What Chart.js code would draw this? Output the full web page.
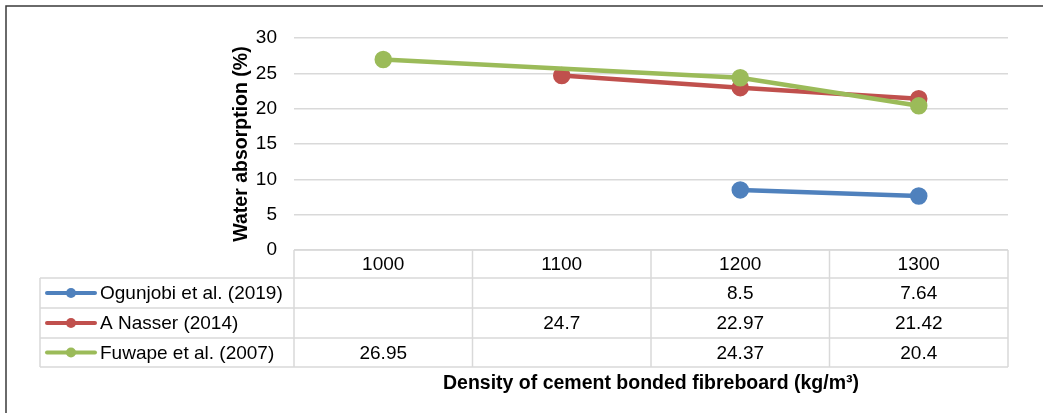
<!DOCTYPE html>
<html>
<head>
<meta charset="utf-8">
<script src="https://cdn.jsdelivr.net/npm/chart.js@4/dist/chart.umd.min.js"></script>
<style>
  html, body { margin: 0; padding: 0; background: #fff; }
  #wrap { width: 1043px; height: 413px; position: relative; }
</style>
</head>
<body>
<div id="wrap"><canvas id="chart"></canvas></div>
<script>
const densities = ['1000', '1100', '1200', '1300']
const ogunjobi = [null, null, 8.5, 7.64]
const nasser = [null, 24.7, 22.97, 21.42]
const fuwape = [26.95, null, 24.37, 20.4]
const seriesNames = ['Ogunjobi et al. (2019)', 'A Nasser (2014)', 'Fuwape et al. (2007)']
const seriesColors = ['#4F81BD', '#C0504D', '#9BBB59']
const yTicks = [0, 5, 10, 15, 20, 25, 30]

const FONT = 'Liberation Sans, Arial, sans-serif'

// draws the frame, the data table under the plot and the x axis title
const tablePlugin = {
    id: 'dataTable',
    beforeDraw(chart) {
        const ctx = chart.ctx
        ctx.save()
        ctx.strokeStyle = '#3a3a3a'
        ctx.lineWidth = 1.5
        ctx.beginPath()
        ctx.moveTo(6, chart.height)
        ctx.lineTo(6, 6)
        ctx.lineTo(chart.width, 6)
        ctx.stroke()
        ctx.restore()
    },
    afterDraw(chart) {
        const ctx = chart.ctx
        const x = chart.scales.x
        const area = chart.chartArea
        const colW = (area.right - area.left) / densities.length
        const legendLeft = 40
        const rowTops = [area.bottom, area.bottom + 28, area.bottom + 58, area.bottom + 88, area.bottom + 117]
        const values = [ogunjobi, nasser, fuwape]

        ctx.save()
        ctx.strokeStyle = '#d9d9d9'
        ctx.lineWidth = 1.5
        ctx.beginPath()
        ctx.moveTo(area.left, rowTops[0])
        ctx.lineTo(area.right, rowTops[0])
        for (let r = 1; r < rowTops.length; r++) {
            ctx.moveTo(legendLeft, rowTops[r])
            ctx.lineTo(area.right, rowTops[r])
        }
        ctx.moveTo(legendLeft, rowTops[1])
        ctx.lineTo(legendLeft, rowTops[4])
        for (let c = 0; c <= densities.length; c++) {
            const cx = area.left + c * colW
            ctx.moveTo(cx, rowTops[0])
            ctx.lineTo(cx, rowTops[4])
        }
        ctx.stroke()

        ctx.fillStyle = '#000'
        ctx.font = '19px ' + FONT
        ctx.textAlign = 'center'
        ctx.textBaseline = 'middle'
        densities.forEach((d, i) => {
            ctx.fillText(d, x.getPixelForValue(i), (rowTops[0] + rowTops[1]) / 2 + 1)
        })

        values.forEach((vals, s) => {
            const cy = (rowTops[s + 1] + rowTops[s + 2]) / 2 + 1
            vals.forEach((v, i) => {
                if (v !== null) ctx.fillText(String(v), x.getPixelForValue(i), cy)
            })
            // legend key
            ctx.strokeStyle = seriesColors[s]
            ctx.lineWidth = 4
            ctx.lineCap = 'round'
            ctx.beginPath()
            ctx.moveTo(47, cy - 1)
            ctx.lineTo(95, cy - 1)
            ctx.stroke()
            ctx.fillStyle = seriesColors[s]
            ctx.beginPath()
            ctx.arc(71, cy - 1, 5, 0, Math.PI * 2)
            ctx.fill()
            ctx.fillStyle = '#000'
            ctx.textAlign = 'left'
            ctx.fillText(seriesNames[s], 100, cy)
            ctx.textAlign = 'center'
        })

        ctx.font = 'bold 19.5px ' + FONT
        ctx.fillText('Density of cement bonded fibreboard (kg/m³)', (area.left + area.right) / 2, 384)
        ctx.restore()
    }
}

document.addEventListener('DOMContentLoaded', () => {
    const canvas = document.getElementById('chart')

    new Chart(canvas, {
        type: 'line',
        data: {
            labels: densities,
            datasets: [ogunjobi, nasser, fuwape].map((vals, i) => ({
                label: seriesNames[i],
                data: vals,
                borderColor: seriesColors[i],
                backgroundColor: seriesColors[i],
                borderWidth: 4.5,
                pointRadius: 6.5,
                pointHoverRadius: 6.5,
                spanGaps: true,
                order: 2 - i
            }))
        },
        options: {
            responsive: true,
            maintainAspectRatio: false,
            animation: false,
            layout: {
                padding: { left: 230, right: 35, top: 38, bottom: 163 }
            },
            plugins: {
                legend: { display: false },
                tooltip: { enabled: false }
            },
            scales: {
                x: {
                    display: false,
                    offset: true
                },
                y: {
                    min: 0,
                    max: 30,
                    afterFit(scale) { scale.width = 64 },
                    afterBuildTicks(scale) { scale.ticks = yTicks.map(v => ({ value: v })) },
                    border: { display: false },
                    grid: { color: '#d9d9d9', lineWidth: 1.5, drawTicks: false },
                    ticks: {
                        color: '#000',
                        padding: 17,
                        font: { family: FONT, size: 19 }
                    },
                    title: {
                        display: true,
                        text: 'Water absorption (%)',
                        color: '#000',
                        padding: { top: 0, bottom: 0 },
                        font: { family: FONT, size: 19.5, weight: 'bold' }
                    }
                }
            }
        },
        plugins: [tablePlugin]
    })
})
</script>
</body>
</html>
